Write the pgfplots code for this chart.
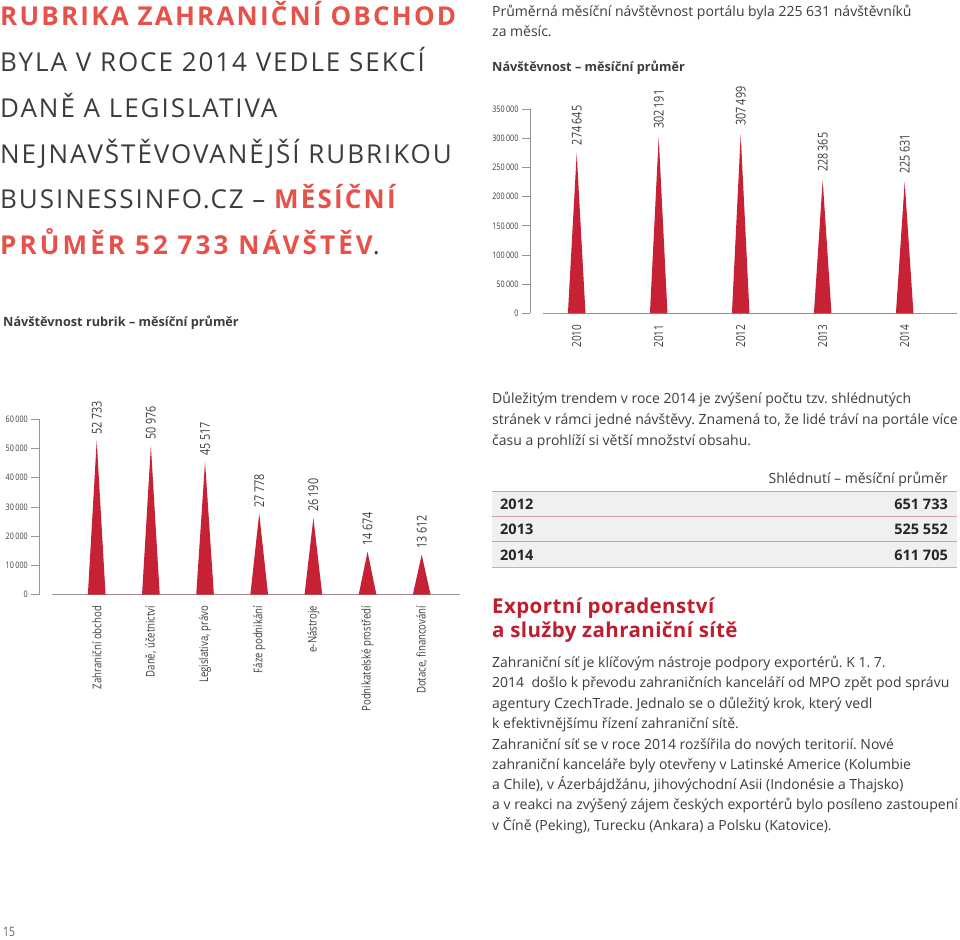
\documentclass[border=0pt]{standalone}
\usepackage{fontspec}
\setmainfont{Open Sans}
\newfontfamily\cond[FakeStretch=0.8]{Open Sans}
\newfontfamily\ttlR[LetterSpace=7.5]{Open Sans}
\newfontfamily\ttlB[LetterSpace=8.5]{Open Sans}
\newfontfamily\ttlBB[LetterSpace=12]{Open Sans}
\newfontfamily\headf[LetterSpace=2]{Open Sans}
\usepackage{pgfplots}
\pgfplotsset{compat=1.18}
\definecolor{spikered}{RGB}{198,33,52}
\definecolor{titlered}{RGB}{230,82,74}
\definecolor{headred}{RGB}{190,30,45}
\definecolor{txt}{RGB}{60,60,60}
\definecolor{axisgray}{RGB}{150,150,150}
\definecolor{tline}{RGB}{205,160,165}
\definecolor{tbg}{RGB}{240,240,240}
\newcommand\fs[2]{\fontsize{#1}{#2}\selectfont}
\frenchspacing
\pgfplotsset{spikes/.style={
  scale only axis, axis line style={draw=none},
  tick align=outside, ytick pos=left, major tick length=8pt,
  ytick style={axisgray, line width=0.8pt}, xtick style={draw=none},
  clip=false, scaled y ticks=false,
  yticklabel style={font=\cond\fs{9}{10}, text=txt},
  every node near coord/.append style={rotate=90, anchor=west, font=\cond\fs{13.5}{15}, text=txt, inner sep=0pt, inner xsep=6pt},
  /pgf/number format/fixed,
  /pgf/number format/precision=0,
  /pgf/number format/1000 sep={\,},
  /pgf/number format/assume math mode=true}}
\begin{document}
\begin{tikzpicture}[x=1pt,y=1pt]
\tikzset{tx/.style={anchor=base west, inner sep=0pt, text=txt, font=\fs{14}{16}}}
% ---------- left title ----------
\node[anchor=base west, inner sep=0pt, text=titlered, font=\ttlB\bfseries\fs{26}{30}] at (0,-26) {RUBRIKA ZAHRANIČNÍ OBCHOD};
\node[anchor=base west, inner sep=0pt, text=txt, font=\ttlR\fs{26}{30}] at (0,-71.7) {BYLA V ROCE 2014 VEDLE SEKCÍ};
\node[anchor=base west, inner sep=0pt, text=txt, font=\ttlR\fs{26}{30}] at (0,-117.3) {DANĚ A LEGISLATIVA};
\node[anchor=base west, inner sep=0pt, text=txt, font=\ttlR\fs{26}{30}] at (0,-163.3) {NEJNAVŠTĚVOVANĚJŠÍ RUBRIKOU};
\node[anchor=base west, inner sep=0pt, text=txt, font=\ttlR\fs{26}{30}] at (0,-208.3) {BUSINESSINFO.CZ – {\ttlB\bfseries\color{titlered}MĚSÍČNÍ}};
\node[anchor=base west, inner sep=0pt, text=txt, font=\ttlR\fs{26}{30}] at (0,-254) {{\ttlBB\bfseries\color{titlered}PRŮMĚR 52 733 NÁVŠTĚV}.};
% ---------- top right text ----------
\node[tx] at (492,-16.6) {Průměrná měsíční návštěvnost portálu byla 225 631 návštěvníků};
\node[tx] at (492,-36.6) {za měsíc.};
\node[tx, font=\bfseries\fs{12.7}{16}] at (492,-71.3) {Návštěvnost – měsíční průměr};
\node[tx, font=\bfseries\fs{12.7}{16}] at (3,-326.3) {Návštěvnost rubrik – měsíční průměr};
% ---------- top chart ----------
\begin{axis}[spikes, at={(530pt,-313.3pt)}, anchor=south west,
  width=427pt, height=204pt,
  xmin=-0.5695, xmax=4.638, ymin=0, ymax=350000,
  ytick={0,50000,100000,150000,200000,250000,300000,350000},
  xtick={0,1,2,3,4}, xticklabels={2010,2011,2012,2013,2014},
  xticklabel style={rotate=90, anchor=east, font=\cond\fs{12.5}{14}, text=txt}]
\draw[axisgray, line width=0.8pt] (rel axis cs:0,0) -- (rel axis cs:0,1);
\draw[axisgray, line width=1.6pt] (axis cs:-0.411,0) -- (axis cs:4.638,0);
\addplot[fill=spikered, draw=none] coordinates {
 (-0.107,0) (0,274645) (0.107,0)
 (0.893,0) (1,302191) (1.107,0)
 (1.893,0) (2,307499) (2.107,0)
 (2.893,0) (3,228365) (3.107,0)
 (3.893,0) (4,225631) (4.107,0)} \closedcycle;
\addplot[draw=none, mark=none, nodes near coords, point meta=explicit symbolic,
  every node near coord/.append style={xshift=2pt}] coordinates {
 (0,274645) [274\,645] (1,302191) [302\,191] (2,307499) [307\,499]
 (3,228365) [228\,365] (4,225631) [225\,631]};
\end{axis}
% ---------- bottom chart ----------
\begin{axis}[spikes, at={(39.3pt,-594.5pt)}, anchor=south west,
  width=420.7pt, height=175.2pt,
  xmin=-1.06, xmax=6.707, ymin=0, ymax=60000,
  ytick={0,10000,20000,30000,40000,50000,60000},
  xtick={0,1,2,3,4,5,6},
  xticklabels={{Zahraniční obchod},{Daně, účetnictví},{Legislativa, právo},{Fáze podnikání},{e-Nástroje},{Podnikatelské prostředí},{Dotace, financování}},
  xticklabel style={rotate=90, anchor=east, font=\cond\fs{12}{14}, text=txt}]
\draw[axisgray, line width=0.8pt] (rel axis cs:0,0) -- (rel axis cs:0,1);
\draw[axisgray, line width=1.6pt] (axis cs:-0.831,0) -- (axis cs:6.707,0);
\addplot[fill=spikered, draw=none] coordinates {
 (-0.163,0) (0,52733) (0.163,0)
 (0.837,0) (1,50976) (1.163,0)
 (1.837,0) (2,45517) (2.163,0)
 (2.837,0) (3,27778) (3.163,0)
 (3.837,0) (4,26190) (4.163,0)
 (4.837,0) (5,14674) (5.163,0)
 (5.837,0) (6,13612) (6.163,0)} \closedcycle;
\addplot[draw=none, mark=none, nodes near coords, point meta=explicit symbolic] coordinates {
 (0,52733) [52\,733] (1,50976) [50\,976] (2,45517) [45\,517]
 (3,27778) [27\,778] (4,26190) [26\,190] (5,14674) [14\,674] (6,13612) [13\,612]};
\end{axis}
% ---------- middle right text ----------
\node[tx] at (492,-403) {Důležitým trendem v roce 2014 je zvýšení počtu tzv. shlédnutých};
\node[tx] at (492,-424) {stránek v rámci jedné návštěvy. Znamená to, že lidé tráví na portále více};
\node[tx] at (492,-445) {času a prohlíží si větší množství obsahu.};
% table
\fill[tbg] (491.7,-491.7) rectangle (957,-567.7);
\draw[tline, line width=1pt] (491.7,-491.7) -- (957,-491.7);
\draw[tline, line width=1pt] (491.7,-516.7) -- (957,-516.7);
\draw[tline, line width=1pt] (491.7,-541.7) -- (957,-541.7);
\draw[axisgray!70, line width=1pt] (491.7,-567.7) -- (957,-567.7);
\node[tx, anchor=base east, font=\fs{14}{16}] at (948,-483.5) {Shlédnutí – měsíční průměr};
\node[tx, font=\bfseries\fs{14.5}{16}, text=black!85] at (500,-509.2) {2012};
\node[tx, font=\bfseries\fs{14.5}{16}, text=black!85] at (500,-534.2) {2013};
\node[tx, font=\bfseries\fs{14.5}{16}, text=black!85] at (500,-560.2) {2014};
\node[tx, anchor=base east, font=\bfseries\fs{14.5}{16}, text=black!85] at (948,-509.2) {651 733};
\node[tx, anchor=base east, font=\bfseries\fs{14.5}{16}, text=black!85] at (948,-534.2) {525 552};
\node[tx, anchor=base east, font=\bfseries\fs{14.5}{16}, text=black!85] at (948,-560.2) {611 705};
% ---------- export section ----------
\node[tx, text=headred, font=\headf\bfseries\fs{20.5}{24}] at (492,-613.5) {Exportní poradenství};
\node[tx, text=headred, font=\headf\bfseries\fs{20.5}{24}] at (492,-637.5) {a služby zahraniční sítě};
\node[tx] at (492,-667.5) {Zahraniční síť je klíčovým nástroje podpory exportérů. K 1. 7.};
\node[tx] at (492,-687.5) {2014\ \ došlo k převodu zahraničních kanceláří od MPO zpět pod správu};
\node[tx] at (492,-708) {agentury CzechTrade. Jednalo se o důležitý krok, který vedl};
\node[tx] at (492,-728) {k efektivnějšímu řízení zahraniční sítě.};
\node[tx] at (492,-749) {Zahraniční síť se v roce 2014 rozšířila do nových teritorií. Nové};
\node[tx] at (492,-769) {zahraniční kanceláře byly otevřeny v Latinské Americe (Kolumbie};
\node[tx] at (492,-789) {a Chile), v Ázerbájdžánu, jihovýchodní Asii (Indonésie a Thajsko)};
\node[tx] at (492,-809.5) {a v reakci na zvýšený zájem českých exportérů bylo posíleno zastoupení};
\node[tx] at (492,-830) {v Číně (Peking), Turecku (Ankara) a Polsku (Katovice).};
\node[tx, font=\cond\fs{13}{15}, text=txt!80] at (3,-936.5) {15};
\pgfresetboundingbox
\path[use as bounding box] (0,0) rectangle (960,-939);
\end{tikzpicture}
\end{document}
